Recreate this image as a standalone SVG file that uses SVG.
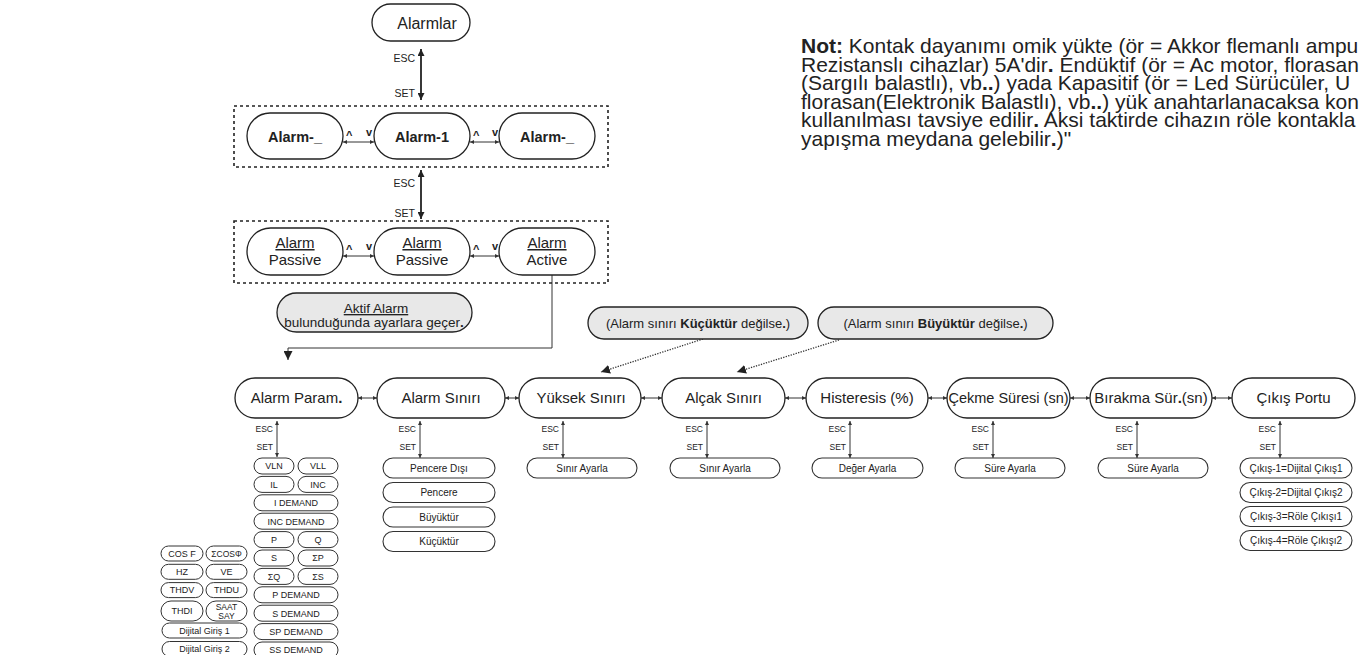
<svg xmlns="http://www.w3.org/2000/svg" width="1361" height="655" viewBox="0 0 1361 655">
  <style>
    text { font-family: "Liberation Sans", Arial, sans-serif; fill: #222; }
    .c { text-anchor: middle; }
    .e { text-anchor: end; }
    .b { font-weight: bold; }
    .pill { fill: #fff; stroke: #222; stroke-width: 1.3; }
    .note { fill: #e8e8e8; stroke: #222; stroke-width: 1.3; }
    .sub { fill: #fff; stroke: #333; stroke-width: 1.1; }
    .sm { fill: #fff; stroke: #333; stroke-width: 1; }
    .frame { fill: none; stroke: #222; stroke-width: 1.6; stroke-dasharray: 3 3; }
    .big { stroke: #222; stroke-width: 1.8; fill: none; }
    .thin { stroke: #333; stroke-width: 1; fill: none; }
    .dot { stroke: #333; stroke-width: 1.3; stroke-dasharray: 1.3 1.3; fill: none; }
    .f16 { font-size: 16px; }
    .f15 { font-size: 15px; }
    .f14 { font-size: 14.5px; }
    .f13 { font-size: 13.5px; }
    .f10 { font-size: 10px; }
    .f9 { font-size: 9px; }
    .lbl { font-size: 10.5px; }
    .lbs { font-size: 8.5px; }
    .u { text-decoration: underline; }
  </style>
  <defs>
    <marker id="aL" viewBox="0 0 7 7" refX="7" refY="3.5" markerWidth="7" markerHeight="7" orient="auto-start-reverse" markerUnits="userSpaceOnUse">
      <path d="M0,0 L7,3.5 L0,7 z" fill="#222"/>
    </marker>
    <marker id="aS" viewBox="0 0 4 4" refX="4" refY="2" markerWidth="4" markerHeight="4" orient="auto-start-reverse" markerUnits="userSpaceOnUse">
      <path d="M0,0 L4,2 L0,4 z" fill="#333"/>
    </marker>
    <marker id="aD" viewBox="0 0 9 9" refX="9" refY="4.5" markerWidth="9" markerHeight="9" orient="auto" markerUnits="userSpaceOnUse">
      <path d="M0,0 L9,4.5 L0,9 z" fill="#222"/>
    </marker>
  </defs>

  <!-- explanatory note -->
  <g id="note" font-size="21">
    <text x="801" y="53"><tspan class="b">Not:</tspan> Kontak dayanımı omik yükte (ör = Akkor flemanlı ampu</text>
    <text x="801" y="71.5">Rezistanslı cihazlar) 5A'dir<tspan class="b">.</tspan> Endüktif (ör = Ac motor, florasan</text>
    <text x="801" y="90">(Sargılı balastlı), vb<tspan class="b">..</tspan>) yada Kapasitif (ör = Led Sürücüler, U</text>
    <text x="801" y="108.5">florasan(Elektronik Balastlı), vb<tspan class="b">..</tspan>) yük anahtarlanacaksa kon</text>
    <text x="801" y="127">kullanılması tavsiye edilir<tspan class="b">.</tspan> Aksi taktirde cihazın röle kontakla</text>
    <text x="801" y="145.5">yapışma meydana gelebilir<tspan class="b">.</tspan>)"</text>
  </g>

  <!-- connectors -->
  <g id="connectors">
    <line class="big" x1="421" y1="49" x2="421" y2="100" marker-start="url(#aL)" marker-end="url(#aL)"/>
    <line class="big" x1="421" y1="170" x2="421" y2="219" marker-start="url(#aL)" marker-end="url(#aL)"/>
    <line class="thin" x1="343" y1="142" x2="374" y2="142" marker-start="url(#aS)" marker-end="url(#aS)"/>
    <line class="thin" x1="470" y1="142" x2="499" y2="142" marker-start="url(#aS)" marker-end="url(#aS)"/>
    <line class="thin" x1="343" y1="256" x2="374" y2="256" marker-start="url(#aS)" marker-end="url(#aS)"/>
    <line class="thin" x1="470" y1="256" x2="499" y2="256" marker-start="url(#aS)" marker-end="url(#aS)"/>
    <path class="thin" stroke-width="1.3" d="M552,275 V348 H288 V360" marker-end="url(#aD)"/>
    <line class="dot" x1="703" y1="339" x2="601" y2="372" marker-end="url(#aD)"/>
    <line class="dot" x1="839" y1="340" x2="737" y2="372" marker-end="url(#aD)"/>
    <!-- main row links -->
    <g class="thin">
      <line x1="358" y1="398" x2="377" y2="398" marker-start="url(#aS)" marker-end="url(#aS)"/>
      <line x1="505" y1="398" x2="519" y2="398" marker-start="url(#aS)" marker-end="url(#aS)"/>
      <line x1="641" y1="398" x2="662" y2="398" marker-start="url(#aS)" marker-end="url(#aS)"/>
      <line x1="785" y1="398" x2="806" y2="398" marker-start="url(#aS)" marker-end="url(#aS)"/>
      <line x1="928" y1="398" x2="947" y2="398" marker-start="url(#aS)" marker-end="url(#aS)"/>
      <line x1="1070" y1="398" x2="1090" y2="398" marker-start="url(#aS)" marker-end="url(#aS)"/>
      <line x1="1212" y1="398" x2="1232" y2="398" marker-start="url(#aS)" marker-end="url(#aS)"/>
      <!-- ESC / SET drops -->
      <line x1="277" y1="421" x2="277" y2="457" marker-start="url(#aS)" marker-end="url(#aS)"/>
      <line x1="420" y1="421" x2="420" y2="458" marker-start="url(#aS)" marker-end="url(#aS)"/>
      <line x1="563" y1="421" x2="563" y2="458" marker-start="url(#aS)" marker-end="url(#aS)"/>
      <line x1="707" y1="421" x2="707" y2="458" marker-start="url(#aS)" marker-end="url(#aS)"/>
      <line x1="850" y1="421" x2="850" y2="458" marker-start="url(#aS)" marker-end="url(#aS)"/>
      <line x1="993" y1="421" x2="993" y2="458" marker-start="url(#aS)" marker-end="url(#aS)"/>
      <line x1="1137" y1="421" x2="1137" y2="458" marker-start="url(#aS)" marker-end="url(#aS)"/>
      <line x1="1280" y1="421" x2="1280" y2="458" marker-start="url(#aS)" marker-end="url(#aS)"/>
    </g>
    <!-- key labels -->
    <text class="e lbl" x="415" y="62">ESC</text>
    <text class="e lbl" x="415" y="97">SET</text>
    <text class="e lbl" x="415" y="187">ESC</text>
    <text class="e lbl" x="415" y="217">SET</text>
    <g class="b" font-size="11">
      <text x="346" y="139">^</text><text x="366" y="136">v</text>
      <text x="473" y="139">^</text><text x="492" y="136">v</text>
      <text x="346" y="253">^</text><text x="366" y="250">v</text>
      <text x="473" y="253">^</text><text x="492" y="250">v</text>
    </g>
    <g class="e lbs">
      <text x="273" y="432">ESC</text><text x="273" y="450">SET</text>
      <text x="416" y="432">ESC</text><text x="416" y="450">SET</text>
      <text x="559" y="432">ESC</text><text x="559" y="450">SET</text>
      <text x="703" y="432">ESC</text><text x="703" y="450">SET</text>
      <text x="846" y="432">ESC</text><text x="846" y="450">SET</text>
      <text x="989" y="432">ESC</text><text x="989" y="450">SET</text>
      <text x="1133" y="432">ESC</text><text x="1133" y="450">SET</text>
      <text x="1276" y="432">ESC</text><text x="1276" y="450">SET</text>
    </g>
  </g>

  <!-- alarm menu -->
  <g id="alarmlar">
    <rect class="pill" x="372" y="4" width="98" height="37" rx="18.5"/>
    <text class="c f16" x="427" y="29">Alarmlar</text>
  </g>

  <g id="alarm-select">
    <rect class="frame" x="234" y="106" width="374" height="61"/>
    <g id="alarm-prev">
      <rect class="pill" x="247" y="113" width="96" height="46" rx="23"/>
      <text class="c b f14" x="295" y="141.5">Alarm-_</text>
    </g>
    <g id="alarm-1">
      <rect class="pill" x="374" y="113" width="96" height="46" rx="23"/>
      <text class="c b f14" x="422" y="141.5">Alarm-1</text>
    </g>
    <g id="alarm-next">
      <rect class="pill" x="499" y="113" width="96" height="46" rx="23"/>
      <text class="c b f14" x="547" y="141.5">Alarm-_</text>
    </g>
  </g>

  <g id="alarm-state">
    <rect class="frame" x="234" y="221" width="374" height="62"/>
    <g id="state-passive-1">
      <rect class="pill" x="247" y="228" width="96" height="47" rx="23.5"/>
      <text class="c f15 u" x="295" y="248">Alarm</text>
      <text class="c f15" x="295" y="265">Passive</text>
    </g>
    <g id="state-passive-2">
      <rect class="pill" x="374" y="228" width="96" height="47" rx="23.5"/>
      <text class="c f15 u" x="422" y="248">Alarm</text>
      <text class="c f15" x="422" y="265">Passive</text>
    </g>
    <g id="state-active">
      <rect class="pill" x="499" y="228" width="96" height="47" rx="23.5"/>
      <text class="c f15 u" x="547" y="248">Alarm</text>
      <text class="c f15" x="547" y="265">Active</text>
    </g>
  </g>

  <g id="hint-active">
    <rect class="note" x="277" y="293" width="195" height="39" rx="19.5"/>
    <text class="c f13 u" x="376" y="313">Aktif Alarm</text>
    <text class="c f13" x="374" y="327">bulunduğunda ayarlara geçer<tspan class="b">.</tspan></text>
  </g>

  <g id="hint-low">
    <rect class="note" x="588" y="307" width="220" height="32" rx="16"/>
    <text class="c" font-size="13" x="698" y="327.5">(Alarm sınırı <tspan class="b">Küçüktür</tspan> değilse<tspan class="b">.</tspan>)</text>
  </g>
  <g id="hint-high">
    <rect class="note" x="818" y="307" width="235" height="32" rx="16"/>
    <text class="c" font-size="13" x="935.5" y="327.5">(Alarm sınırı <tspan class="b">Büyüktür</tspan> değilse<tspan class="b">.</tspan>)</text>
  </g>

  <!-- settings row -->
  <g id="alarm-param">
    <rect class="pill" x="235" y="378" width="123" height="40" rx="20"/>
    <text class="c f15" x="296.5" y="403">Alarm Param<tspan class="b">.</tspan></text>
  </g>
  <g id="alarm-siniri">
    <rect class="pill" x="377" y="378" width="128" height="40" rx="20"/>
    <text class="c f15" x="441" y="403">Alarm Sınırı</text>
  </g>
  <g id="yuksek-siniri">
    <rect class="pill" x="519" y="378" width="122" height="40" rx="20"/>
    <text class="c f15" x="581" y="403">Yüksek Sınırı</text>
  </g>
  <g id="alcak-siniri">
    <rect class="pill" x="662" y="378" width="123" height="40" rx="20"/>
    <text class="c f15" x="723.5" y="403">Alçak Sınırı</text>
  </g>
  <g id="histeresis">
    <rect class="pill" x="806" y="378" width="122" height="40" rx="20"/>
    <text class="c f15" x="867" y="403">Histeresis (%)</text>
  </g>
  <g id="cekme-suresi">
    <rect class="pill" x="947" y="378" width="123" height="40" rx="20"/>
    <text class="c f14" x="1008.5" y="403">Çekme Süresi (sn)</text>
  </g>
  <g id="birakma-suresi">
    <rect class="pill" x="1090" y="378" width="122" height="40" rx="20"/>
    <text class="c f15" x="1151" y="403">Bırakma Sür<tspan class="b">.</tspan>(sn)</text>
  </g>
  <g id="cikis-portu">
    <rect class="pill" x="1232" y="378" width="123" height="40" rx="20"/>
    <text class="c f15" x="1293.5" y="403">Çıkış Portu</text>
  </g>

  <!-- option lists -->
  <g id="sinir-options">
    <rect class="sub" x="383" y="458" width="112" height="20" rx="10"/>
    <text class="c f10" x="439" y="471.5">Pencere Dışı</text>
    <rect class="sub" x="383" y="482.5" width="112" height="20" rx="10"/>
    <text class="c f10" x="439" y="496">Pencere</text>
    <rect class="sub" x="383" y="507" width="112" height="20" rx="10"/>
    <text class="c f10" x="439" y="520.5">Büyüktür</text>
    <rect class="sub" x="383" y="531.5" width="112" height="20" rx="10"/>
    <text class="c f10" x="439" y="545">Küçüktür</text>
  </g>
  <g id="yuksek-set">
    <rect class="sub" x="527" y="458" width="110" height="20" rx="10"/>
    <text class="c f10" x="582" y="471.5">Sınır Ayarla</text>
  </g>
  <g id="alcak-set">
    <rect class="sub" x="670" y="458" width="110" height="20" rx="10"/>
    <text class="c f10" x="725" y="471.5">Sınır Ayarla</text>
  </g>
  <g id="histeresis-set">
    <rect class="sub" x="812" y="458" width="111" height="20" rx="10"/>
    <text class="c f10" x="867.5" y="471.5">Değer Ayarla</text>
  </g>
  <g id="cekme-set">
    <rect class="sub" x="955" y="458" width="110" height="20" rx="10"/>
    <text class="c f10" x="1010" y="471.5">Süre Ayarla</text>
  </g>
  <g id="birakma-set">
    <rect class="sub" x="1098" y="458" width="110" height="20" rx="10"/>
    <text class="c f10" x="1153" y="471.5">Süre Ayarla</text>
  </g>
  <g id="cikis-options">
    <rect class="sub" x="1240" y="458" width="112" height="20" rx="10"/>
    <text class="c f10" x="1296" y="471.5">Çıkış-1=Dijital Çıkış1</text>
    <rect class="sub" x="1240" y="482.5" width="112" height="20" rx="10"/>
    <text class="c f10" x="1296" y="496">Çıkış-2=Dijital Çıkış2</text>
    <rect class="sub" x="1240" y="506.5" width="112" height="20" rx="10"/>
    <text class="c f10" x="1296" y="520">Çıkış-3=Röle Çıkışı1</text>
    <rect class="sub" x="1240" y="530.5" width="112" height="20" rx="10"/>
    <text class="c f10" x="1296" y="544">Çıkış-4=Röle Çıkışı2</text>
  </g>

  <!-- measured parameter list -->
  <g id="param-list">
    <rect class="sm" x="254" y="458" width="40" height="16" rx="8"/><text class="c f9" x="274" y="469.3">VLN</text>
    <rect class="sm" x="298" y="458" width="40" height="16" rx="8"/><text class="c f9" x="318" y="469.3">VLL</text>
    <rect class="sm" x="254" y="476.4" width="40" height="16" rx="8"/><text class="c f9" x="274" y="487.7">IL</text>
    <rect class="sm" x="298" y="476.4" width="40" height="16" rx="8"/><text class="c f9" x="318" y="487.7">INC</text>
    <rect class="sm" x="254" y="494.8" width="84" height="16" rx="8"/><text class="c f9" x="296" y="506.1">I DEMAND</text>
    <rect class="sm" x="254" y="513.2" width="84" height="16" rx="8"/><text class="c f9" x="296" y="524.5">INC DEMAND</text>
    <rect class="sm" x="254" y="531.6" width="40" height="16" rx="8"/><text class="c f9" x="274" y="542.9">P</text>
    <rect class="sm" x="298" y="531.6" width="40" height="16" rx="8"/><text class="c f9" x="318" y="542.9">Q</text>
    <rect class="sm" x="254" y="550" width="40" height="16" rx="8"/><text class="c f9" x="274" y="561.3">S</text>
    <rect class="sm" x="298" y="550" width="40" height="16" rx="8"/><text class="c f9" x="318" y="561.3">ΣP</text>
    <rect class="sm" x="254" y="568.4" width="40" height="16" rx="8"/><text class="c f9" x="274" y="579.7">ΣQ</text>
    <rect class="sm" x="298" y="568.4" width="40" height="16" rx="8"/><text class="c f9" x="318" y="579.7">ΣS</text>
    <rect class="sm" x="254" y="586.8" width="84" height="16" rx="8"/><text class="c f9" x="296" y="598.1">P DEMAND</text>
    <rect class="sm" x="254" y="605.2" width="84" height="16" rx="8"/><text class="c f9" x="296" y="616.5">S DEMAND</text>
    <rect class="sm" x="254" y="623.6" width="84" height="16" rx="8"/><text class="c f9" x="296" y="634.9">SP DEMAND</text>
    <rect class="sm" x="254" y="642" width="84" height="16" rx="8"/><text class="c f9" x="296" y="653.3">SS DEMAND</text>
  </g>
  <g id="param-list-extra">
    <rect class="sm" x="161" y="546" width="42" height="15" rx="7.5"/><text class="c f9" x="182" y="556.8">COS F</text>
    <rect class="sm" x="206" y="546" width="41" height="15" rx="7.5"/><text class="c" font-size="8.5" x="226.5" y="556.8">ΣCOSΦ</text>
    <rect class="sm" x="161" y="564.3" width="42" height="15" rx="7.5"/><text class="c f9" x="182" y="575.1">HZ</text>
    <rect class="sm" x="206" y="564.3" width="41" height="15" rx="7.5"/><text class="c f9" x="226.5" y="575.1">VE</text>
    <rect class="sm" x="161" y="582.6" width="42" height="15" rx="7.5"/><text class="c f9" x="182" y="593.4">THDV</text>
    <rect class="sm" x="206" y="582.6" width="41" height="15" rx="7.5"/><text class="c f9" x="226.5" y="593.4">THDU</text>
    <rect class="sm" x="161" y="601" width="42" height="20" rx="10"/><text class="c f9" x="182" y="614.3">THDI</text>
    <rect class="sm" x="206" y="601" width="41" height="20" rx="10"/>
    <text class="c" font-size="8.5" x="226.5" y="609.5">SAAT</text>
    <text class="c" font-size="8.5" x="226.5" y="618.5">SAY</text>
    <rect class="sm" x="162" y="623" width="85" height="15" rx="7.5"/><text class="c f9" x="204.5" y="633.8">Dijital Giriş 1</text>
    <rect class="sm" x="162" y="641.5" width="85" height="15" rx="7.5"/><text class="c f9" x="204.5" y="652.3">Dijital Giriş 2</text>
  </g>
</svg>
